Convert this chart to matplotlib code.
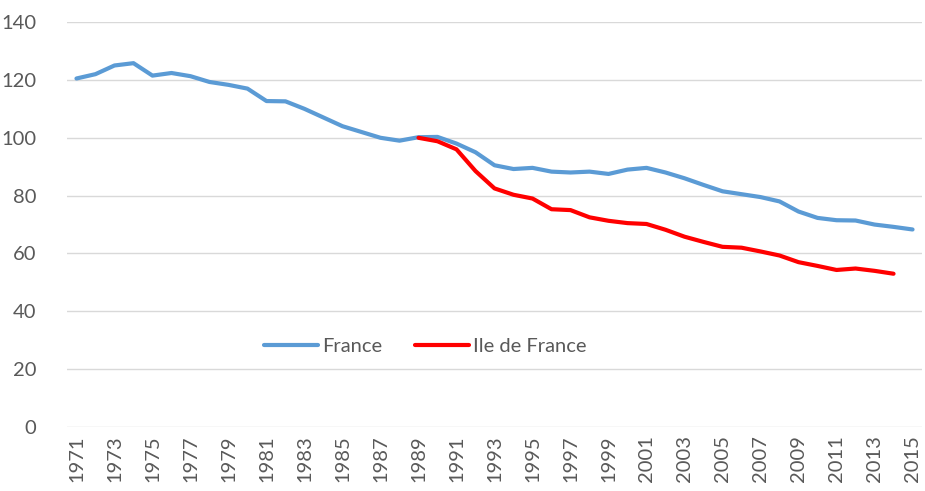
import matplotlib.pyplot as plt

# data
years = list(range(1971, 2016))
france = [120.5, 122, 125, 125.8, 121.5, 122.4, 121.3, 119.3, 118.3, 117,
          112.7, 112.6, 110, 107, 104, 102, 100, 99, 100.2, 100.3,
          98, 95, 90.5, 89.2, 89.6, 88.3, 88, 88.3, 87.5, 89,
          89.6, 88, 86, 83.7, 81.5, 80.5, 79.5, 78, 74.5, 72.3,
          71.5, 71.4, 70, 69.2, 68.3]
idf_years = list(range(1989, 2015))
idf = [100, 98.8, 96, 88.5, 82.5, 80.3, 79, 75.3, 75, 72.5,
       71.3, 70.5, 70.2, 68.2, 65.8, 64, 62.3, 62, 60.7, 59.3,
       57, 55.7, 54.3, 54.8, 54, 53]
tick_years = years[::2]

plt.rcParams['font.family'] = ['Lato', 'DejaVu Sans']
grey = '#595959'

fig = plt.figure(figsize=(9.25, 4.91), dpi=100)
ax = fig.add_axes([0.0724, 0.1303, 0.9244, 0.8247])

ax.plot(years, france, color='#5B9BD5', lw=3, label='France', solid_capstyle='round')
ax.plot(idf_years, idf, color='#FF0000', lw=3, label='Ile de France', solid_capstyle='round')

ax.set_xlim(1970.5, 2015.5)
ax.set_ylim(0, 140)
ax.set_yticks(range(0, 141, 20))
ax.set_xticks(tick_years)
ax.set_xticklabels([str(y) for y in tick_years], rotation=90)
ax.grid(axis='y', color='#D9D9D9', lw=1)
ax.set_axisbelow(True)
for s in ax.spines.values():
    s.set_visible(False)
ax.tick_params(length=0, labelsize=14.5, colors=grey)
ax.tick_params(axis='y', pad=22)
ax.tick_params(axis='x', pad=6)

leg = ax.legend(loc='center', bbox_to_anchor=(0.419, 0.198), ncol=2, frameon=False,
                fontsize=14.5, handlelength=2.7, handletextpad=0.2, columnspacing=1.6)
for t in leg.get_texts():
    t.set_color(grey)

fig.savefig('out.png', dpi=100)
